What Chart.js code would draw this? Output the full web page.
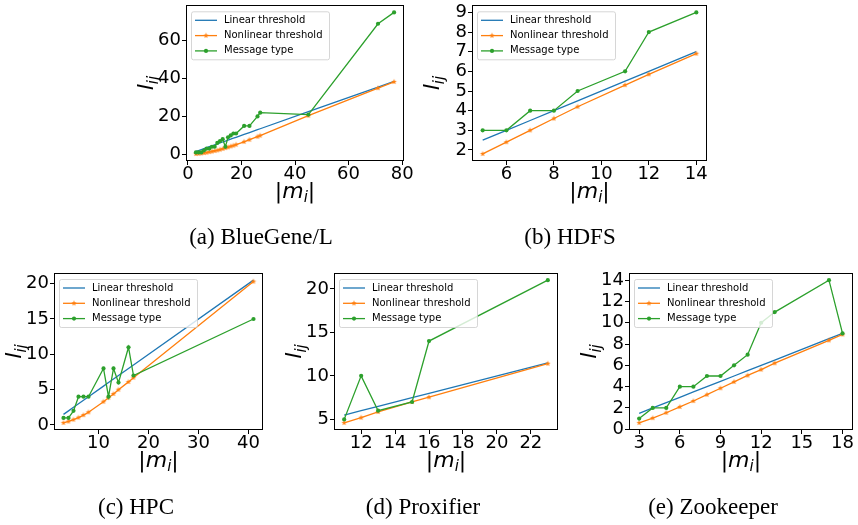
<!DOCTYPE html>
<html>
<head>
<meta charset="utf-8">
<script src="https://cdn.jsdelivr.net/npm/chart.js@4.4.0/dist/chart.umd.min.js"></script>
<style>
    html, body { margin: 0; padding: 0; background: #fff; }
    #fig { position: relative; width: 858px; height: 525px; overflow: hidden; }
    #fig canvas { position: absolute; left: 0; top: 0; }
    .cap {
        position: absolute; font-family: "Liberation Serif", serif; font-size: 23px;
        line-height: 1; color: #000; white-space: nowrap; transform: translateX(-50%);
    }
</style>
</head>
<body>
<div id="fig">
    <canvas id="chartA" width="858" height="525"></canvas>
    <canvas id="chartB" width="858" height="525"></canvas>
    <canvas id="chartC" width="858" height="525"></canvas>
    <canvas id="chartD" width="858" height="525"></canvas>
    <canvas id="chartE" width="858" height="525"></canvas>
    <div class="cap" style="left:261px; top:225px">(a) BlueGene/L</div>
    <div class="cap" style="left:570px; top:225px">(b) HDFS</div>
    <div class="cap" style="left:136px; top:495px">(c) HPC</div>
    <div class="cap" style="left:423px; top:495px">(d) Proxifier</div>
    <div class="cap" style="left:713px; top:495px">(e) Zookeeper</div>
</div>
<script>
(function() {
    const seriesNames = ['Linear threshold', 'Nonlinear threshold', 'Message type'];
    const seriesColors = ['#1f77b4', '#ff7f0e', '#2ca02c'];

    // (a) BlueGene/L
    const xA = [3, 4, 5, 6, 7, 8, 9, 10, 11, 12, 13, 14, 15, 16, 17, 18, 21, 23, 26, 27, 45, 71, 77];
    const linA = [1.5, 2, 2.5, 3, 3.5, 4, 4.5, 5, 5.5, 6, 6.5, 7, 7.5, 8, 8.5, 9, 10.5, 11.5, 13, 13.5, 22.5, 35.5, 38.5];
    const nonlinA = [0.2, 0.35, 0.5, 0.7, 0.9, 1.2, 1.5, 1.8, 2.1, 2.5, 2.9, 3.3, 3.7, 4.2, 4.6, 5.1, 6.6, 7.7, 9.3, 9.9, 20.4, 35, 38.3];
    const msgA = [1, 1, 1, 2, 3, 3, 4, 4, 6, 7, 8, 4, 9, 10, 11, 11, 15, 15, 20, 22, 21, 69, 75];
    const xTicksA = [0, 20, 40, 60, 80];
    const yTicksA = [0, 20, 40, 60];

    // (b) HDFS
    const xB = [5, 6, 7, 8, 9, 11, 12, 14];
    const linB = [2.5, 3, 3.5, 4, 4.5, 5.5, 6, 7];
    const nonlinB = [1.8, 2.4, 3.0, 3.6, 4.2, 5.3, 5.85, 6.9];
    const msgB = [3, 3, 4, 4, 5, 6, 8, 9];
    const xTicksB = [6, 8, 10, 12, 14];
    const yTicksB = [2, 3, 4, 5, 6, 7, 8, 9];

    // (c) HPC
    const xC = [3, 4, 5, 6, 7, 8, 11, 12, 13, 14, 16, 17, 41];
    const linC = [1.5, 2, 2.5, 3, 3.5, 4, 5.5, 6, 6.5, 7, 8, 8.5, 20.5];
    const nonlinC = [0.3, 0.5, 0.75, 1.05, 1.4, 1.8, 3.3, 3.85, 4.4, 5.0, 6.1, 6.7, 20.3];
    const msgC = [1, 1, 2, 4, 4, 4, 8, 4, 8, 6, 11, 7, 15];
    const xTicksC = [10, 20, 30, 40];
    const yTicksC = [0, 5, 10, 15, 20];

    // (d) Proxifier
    const xD = [11, 12, 13, 15, 16, 23];
    const linD = [5.5, 6, 6.5, 7.5, 8, 11.5];
    const nonlinD = [4.6, 5.2, 5.85, 7.0, 7.55, 11.4];
    const msgD = [5, 10, 6, 7, 14, 21];
    const xTicksD = [12, 14, 16, 18, 20, 22];
    const yTicksD = [5, 10, 15, 20];

    // (e) Zookeeper
    const xE = [3, 4, 5, 6, 7, 8, 9, 10, 11, 12, 13, 17, 18];
    const linE = [1.5, 2, 2.5, 3, 3.5, 4, 4.5, 5, 5.5, 6, 6.5, 8.5, 9];
    const nonlinE = [0.6, 1.05, 1.55, 2.1, 2.65, 3.25, 3.85, 4.45, 5.05, 5.6, 6.2, 8.35, 8.9];
    const msgE = [1, 2, 2, 4, 4, 5, 5, 6, 7, 10, 11, 14, 9];
    const xTicksE = [3, 6, 9, 12, 15, 18];
    const yTicksE = [0, 2, 4, 6, 8, 10, 12, 14];

    const W = 858, H = 525;
    const Y_AXIS_W = 50, X_AXIS_H = 40;
    const TICK_FONT = { family: 'DejaVu Sans', size: 18 };

    // frame = [left, top, right, bottom] of each plot box in page pixels
    const panels = [
        { id: 'chartA', frame: [186, 4, 404, 161], x: xA, series: [linA, nonlinA, msgA], xTicks: xTicksA, yTicks: yTicksA },
        { id: 'chartB', frame: [472, 4, 707, 161], x: xB, series: [linB, nonlinB, msgB], xTicks: xTicksB, yTicks: yTicksB },
        { id: 'chartC', frame: [54, 273, 263, 430], x: xC, series: [linC, nonlinC, msgC], xTicks: xTicksC, yTicks: yTicksC },
        { id: 'chartD', frame: [334, 273, 558, 430], x: xD, series: [linD, nonlinD, msgD], xTicks: xTicksD, yTicks: yTicksD },
        { id: 'chartE', frame: [629, 273, 854, 430], x: xE, series: [linE, nonlinE, msgE], xTicks: xTicksE, yTicks: yTicksE }
    ];

    // small filled star, like matplotlib's '*' marker
    function starMarker(color) {
        const c = document.createElement('canvas');
        c.width = 8; c.height = 8;
        const g = c.getContext('2d');
        g.fillStyle = color;
        g.beginPath();
        for (let k = 0; k < 10; k++) {
            const r = k % 2 ? 1.2 : 2.9;
            const a = -Math.PI / 2 + k * Math.PI / 5;
            g.lineTo(4 + r * Math.cos(a), 4 + r * Math.sin(a));
        }
        g.closePath();
        g.fill();
        return c;
    }
    const orangeStar = starMarker(seriesColors[1]);

    // matplotlib-like auto limits: 5% margin on each side
    function paddedRange(values) {
        const lo = Math.min(...values), hi = Math.max(...values);
        const m = (hi - lo) * 0.05;
        return [lo - m, hi + m];
    }

    function drawParts(ctx, parts) {
        let total = 0;
        parts.forEach(p => { ctx.font = p.font; p.w = ctx.measureText(p.text).width; total += p.w; });
        let x = -total / 2;
        parts.forEach(p => {
            ctx.font = p.font;
            ctx.fillText(p.text, x, p.dy);
            x += p.w;
        });
    }

    const decor = {
        id: 'decor',
        afterDatasetsDraw(chart) {
            const ctx = chart.ctx, a = chart.chartArea;
            // legend box
            const bx = a.left + 5, by = a.top + 6, bw = 138, bh = 48;
            ctx.save();
            ctx.beginPath();
            ctx.roundRect(bx + 0.5, by + 0.5, bw, bh, 2);
            ctx.fillStyle = 'rgba(255,255,255,0.8)';
            ctx.fill();
            ctx.strokeStyle = 'rgba(204,204,204,0.8)';
            ctx.lineWidth = 1;
            ctx.stroke();
            seriesNames.forEach((name, i) => {
                const cy = by + 9 + i * 15.3;
                ctx.strokeStyle = seriesColors[i];
                ctx.lineWidth = 1.3;
                ctx.beginPath();
                ctx.moveTo(bx + 4, cy);
                ctx.lineTo(bx + 26, cy);
                ctx.stroke();
                if (i === 1) {
                    ctx.drawImage(orangeStar, bx + 15 - 4, cy - 4);
                } else if (i === 2) {
                    ctx.fillStyle = seriesColors[2];
                    ctx.beginPath();
                    ctx.arc(bx + 15, cy, 2.1, 0, Math.PI * 2);
                    ctx.fill();
                }
                ctx.fillStyle = '#000';
                ctx.font = '10px "DejaVu Sans"';
                ctx.textBaseline = 'middle';
                ctx.textAlign = 'left';
                ctx.fillText(name, bx + 33, cy);
            });
            // frame
            ctx.strokeStyle = '#000';
            ctx.lineWidth = 1;
            ctx.strokeRect(Math.round(a.left) + 0.5, Math.round(a.top) + 0.5,
                Math.round(a.right - a.left) - 1, Math.round(a.bottom - a.top) - 1);
            ctx.restore();
        },
        afterDraw(chart) {
            const ctx = chart.ctx, a = chart.chartArea;
            const fs = 22;
            const up = fs + 'px "DejaVu Sans"';
            const it = 'italic ' + fs + 'px "DejaVu Sans"';
            const sub = 'italic ' + Math.round(fs * 0.7) + 'px "DejaVu Sans"';
            ctx.save();
            ctx.fillStyle = '#000';
            ctx.textBaseline = 'alphabetic';
            ctx.textAlign = 'left';
            // x title |m_i|
            ctx.save();
            ctx.translate((a.left + a.right) / 2, a.bottom + 37);
            drawParts(ctx, [
                { text: '|', font: up, dy: 0 },
                { text: 'm', font: it, dy: 0 },
                { text: 'i', font: sub, dy: 4 },
                { text: '|', font: up, dy: 0 }
            ]);
            ctx.restore();
            // y title l_ij
            ctx.save();
            ctx.translate(a.left - 33, (a.top + a.bottom) / 2);
            ctx.rotate(-Math.PI / 2);
            drawParts(ctx, [
                { text: 'l', font: it, dy: 0 },
                { text: 'ij', font: sub, dy: 5 }
            ]);
            ctx.restore();
            ctx.restore();
        }
    };

    function axisOptions(isX, range, ticks) {
        return {
            type: 'linear',
            min: range[0],
            max: range[1],
            afterBuildTicks: s => { s.ticks = ticks.map(v => ({ value: v })); },
            afterFit: s => {
                if (isX) { s.height = X_AXIS_H; s.paddingLeft = 0; s.paddingRight = 0; }
                else { s.width = Y_AXIS_W; s.paddingTop = 0; s.paddingBottom = 0; }
            },
            grid: { display: true, drawOnChartArea: false, drawTicks: true, tickLength: 4, color: '#000', tickWidth: 1 },
            border: { display: false },
            ticks: {
                font: TICK_FONT, color: '#000', padding: isX ? -1 : 1,
                maxRotation: 0, autoSkip: false,
                callback: v => String(v)
            }
        };
    }

    panels.forEach(p => {
        const [lin, nonlin, msg] = p.series;
        const pts = ys => p.x.map((x, i) => ({ x: x, y: ys[i] }));
        const f = p.frame;
        new Chart(document.getElementById(p.id).getContext('2d'), {
            type: 'line',
            data: {
                datasets: [
                    {
                        label: seriesNames[2], data: pts(msg), order: 0,
                        borderColor: seriesColors[2], backgroundColor: seriesColors[2],
                        borderWidth: 1.3, pointRadius: 2.1, pointBorderWidth: 0, pointStyle: 'circle',
                        tension: 0, fill: false
                    },
                    {
                        label: seriesNames[1], data: pts(nonlin), order: 1,
                        borderColor: seriesColors[1], backgroundColor: seriesColors[1],
                        borderWidth: 1.3, pointRadius: 3, pointStyle: orangeStar,
                        tension: 0, fill: false
                    },
                    {
                        label: seriesNames[0], data: pts(lin), order: 2,
                        borderColor: seriesColors[0], backgroundColor: seriesColors[0],
                        borderWidth: 1.3, pointRadius: 0,
                        tension: 0, fill: false
                    }
                ]
            },
            options: {
                responsive: false,
                animation: false,
                events: [],
                layout: {
                    padding: { left: f[0] - Y_AXIS_W, top: f[1], right: W - f[2], bottom: H - f[3] - X_AXIS_H }
                },
                plugins: { legend: { display: false }, tooltip: { enabled: false } },
                scales: {
                    x: axisOptions(true, paddedRange(p.x), p.xTicks),
                    y: axisOptions(false, paddedRange([...lin, ...nonlin, ...msg]), p.yTicks)
                }
            },
            plugins: [decor]
        });
    });
})();
</script>
</body>
</html>
